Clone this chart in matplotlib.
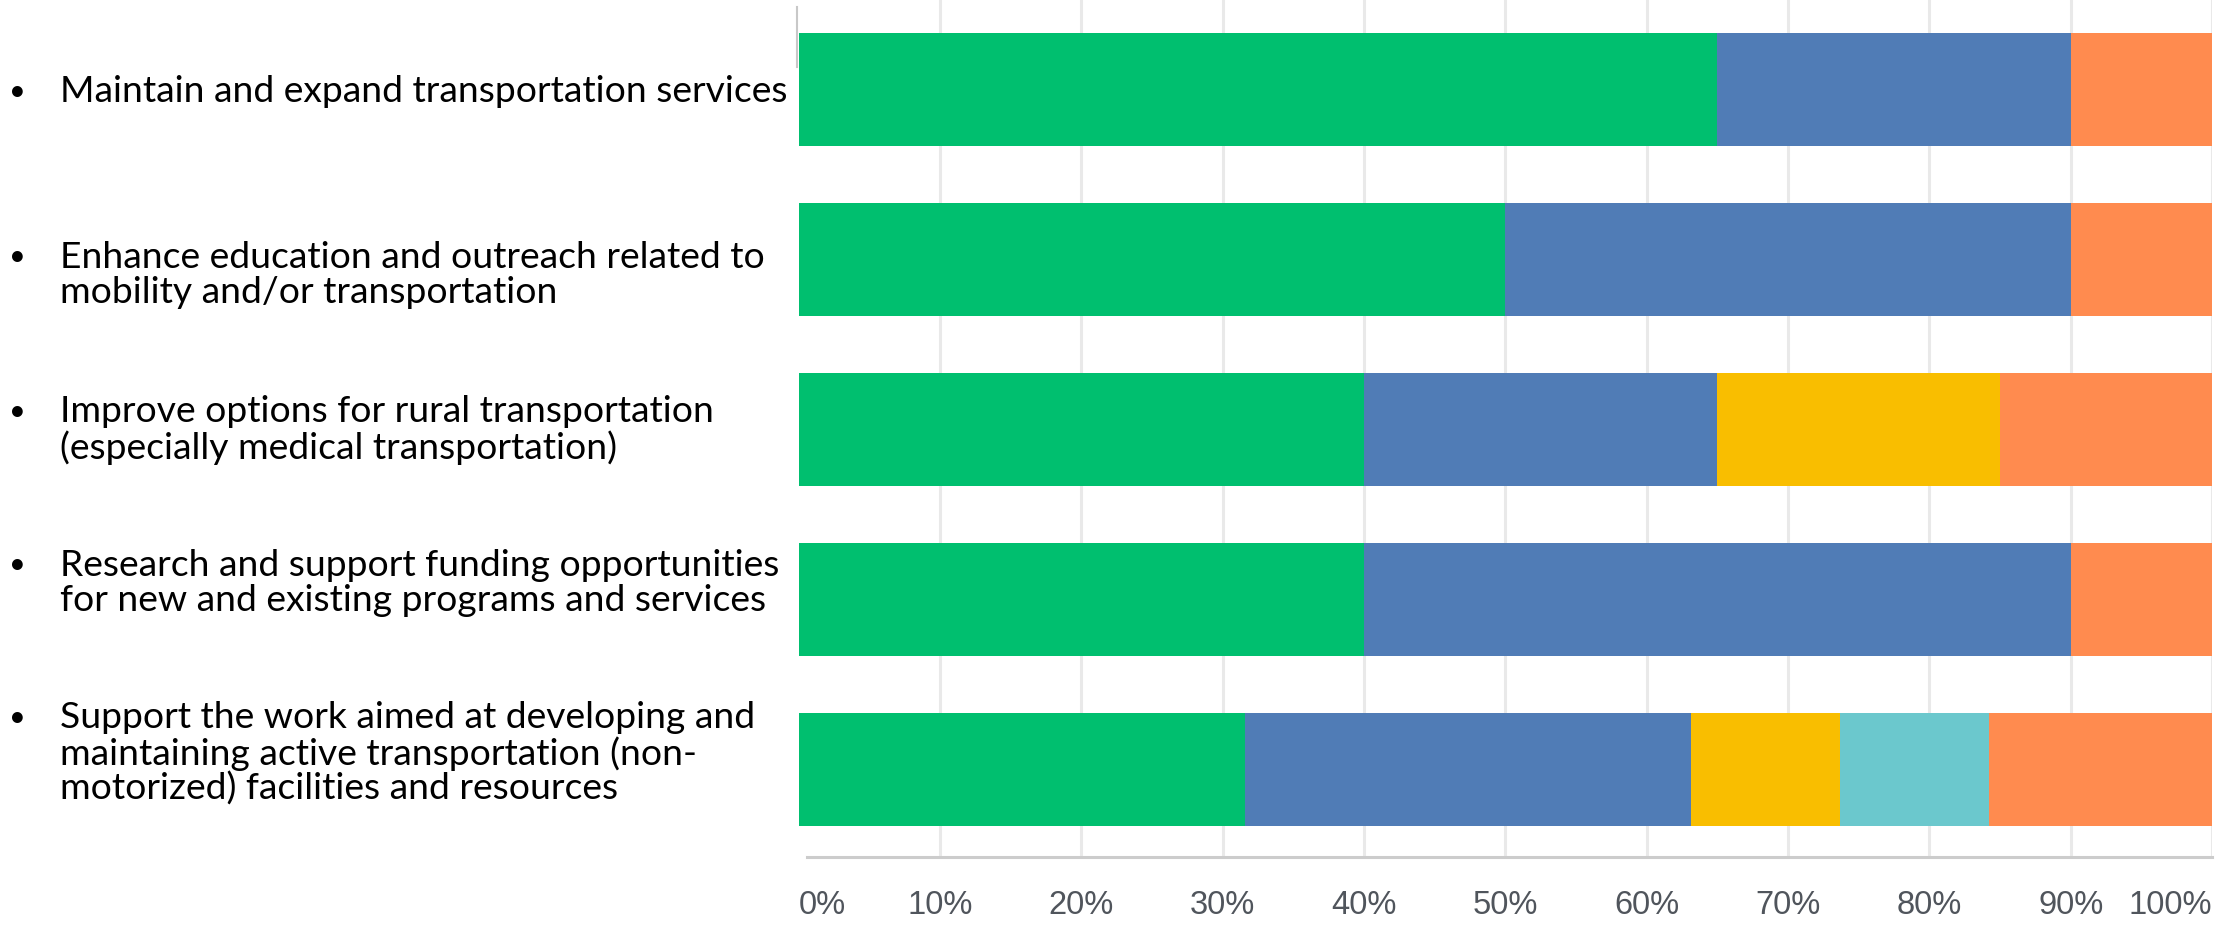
import matplotlib
matplotlib.use("Agg")
import matplotlib.pyplot as plt
import numpy as np

# ---- data ----
categories = [
    "Maintain and expand transportation services",
    "Enhance education and outreach related to\nmobility and/or transportation",
    "Improve options for rural transportation\n(especially medical transportation)",
    "Research and support funding opportunities\nfor new and existing programs and services",
    "Support the work aimed at developing and\nmaintaining active transportation (non-\nmotorized) facilities and resources",
]
series_names = ["Response 1", "Response 2", "Response 3", "Response 4", "Response 5"]
s1 = [65, 50, 40, 40, 31.58]
s2 = [25, 40, 25, 50, 31.58]
s3 = [0, 0, 20, 0, 10.53]
s4 = [0, 0, 0, 0, 10.53]
s5 = [10, 10, 15, 10, 15.79]
series = [s1, s2, s3, s4, s5]
colors = ["#00BF6F", "#507CB6", "#F9BE00", "#6BC8CD", "#FF8B4F"]
tick_values = list(range(0, 101, 10))
tick_labels = [f"{v}%" for v in tick_values]

W, H = 2239, 926
fig = plt.figure(figsize=(W / 100, H / 100), dpi=100)
fig.patch.set_facecolor("white")

x0, x1 = 798.6, 2212
ax = fig.add_axes([x0 / W, (H - 857) / H, (x1 - x0) / W, 857 / H])
ax.set_xlim(0, 100)
ax.set_ylim(4.512, -0.529)

y = np.arange(len(categories))
left = np.zeros(len(categories))
for vals, col, name in zip(series, colors, series_names):
    ax.barh(y, vals, left=left, height=0.665, color=col, label=name, zorder=3, linewidth=0)
    left += np.array(vals)

for v in tick_values[1:]:
    ax.axvline(v, color="#e9e9e9", lw=2.2, zorder=1)

for s in ["top", "right", "left"]:
    ax.spines[s].set_visible(False)
ax.spines["bottom"].set_color("#cccccc")
ax.spines["bottom"].set_linewidth(2.2)
ax.spines["bottom"].set_bounds(0.6, 100)
ax.set_yticks([])
ax.set_xticks(tick_values)
ax.set_xticklabels(tick_labels, fontsize=23.5, color="#50555c", family="Liberation Sans")
ax.tick_params(axis="x", length=0, pad=23.5)
lbls = ax.get_xticklabels()
lbls[0].set_ha("left")
lbls[-1].set_ha("right")

# ---- left labels ----
first_line_y = [92, 257, 412, 565, 718]
line_step = 35.5
for cat, yy in zip(categories, first_line_y):
    lines = cat.split("\n")
    fig.text(17 / W, 1 - yy / H, "\u2022", fontsize=21, family="Lato", va="center", ha="center", color="black")
    for i, ln in enumerate(lines):
        fig.text(60 / W, 1 - (yy + i * line_step) / H, ln, fontsize=26.8, family="Lato",
                 va="center", ha="left", color="black")

# small artifact line at top-left of plot area
fig.add_artist(plt.Line2D([797 / W, 797 / W], [1 - 7 / H, 1 - 67 / H], color="#c8c8c8", lw=1.5))

fig.savefig("out.png", dpi=100, facecolor="white")
